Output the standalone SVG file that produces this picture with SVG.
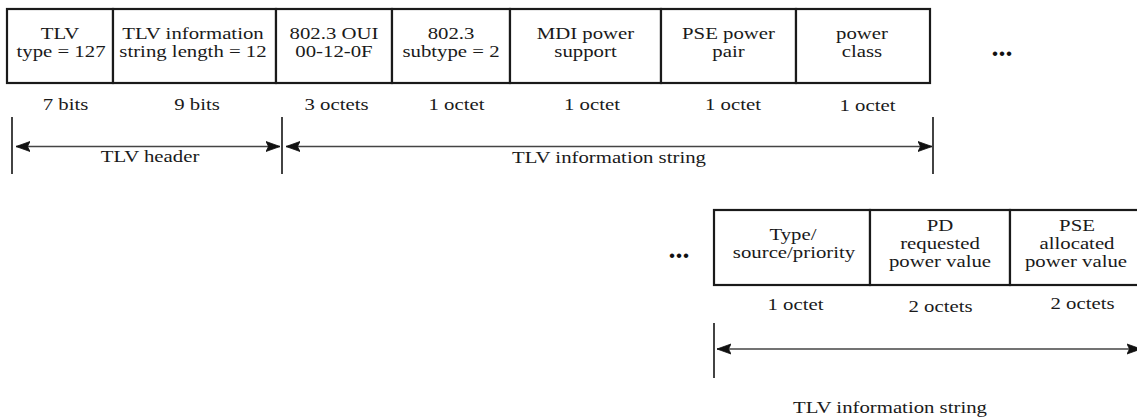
<svg xmlns="http://www.w3.org/2000/svg" width="1137" height="418" viewBox="0 0 1137 418">
<style>
.box{fill:#fff;stroke:#1a1a1a;stroke-width:2.2}
.t{font-family:"Liberation Serif","Times New Roman",serif;font-size:16.5px;fill:#1a1a1a;text-anchor:middle}
.dots{font-family:"Liberation Serif",serif;font-size:28px;font-weight:bold;fill:#111;text-anchor:middle}
.tick{stroke:#222;stroke-width:1.7}
.dim{stroke:#444;stroke-width:1.5;fill:none;marker-start:url(#ah);marker-end:url(#ah)}
</style>
<defs>
<marker id="ah" markerUnits="userSpaceOnUse" markerWidth="16" markerHeight="12" refX="14" refY="6" orient="auto-start-reverse">
<path d="M0,1 L14,6 L0,11 L2.5,6 Z" fill="#111" stroke="#111" stroke-width="0.8" stroke-linejoin="round"/>
</marker>
</defs>
<rect width="1137" height="418" fill="#fff"/>

<g id="f-tlv-type">
<rect class="box" x="7" y="9" width="106" height="74"/>
<text class="t" transform="translate(60,38.5) scale(1.26,1)">TLV</text>
<text class="t" transform="translate(61,56.5) scale(1.26,1)">type = 127</text>
<text class="t" transform="translate(65.5,110) scale(1.26,1)">7 bits</text>
</g>
<g id="f-tlv-len">
<rect class="box" x="113" y="9" width="163" height="74"/>
<text class="t" transform="translate(193,38.5) scale(1.26,1)">TLV information</text>
<text class="t" transform="translate(193,56.5) scale(1.26,1)">string length = 12</text>
<text class="t" transform="translate(197,110) scale(1.26,1)">9 bits</text>
</g>
<g id="f-oui">
<rect class="box" x="276" y="9" width="116" height="74"/>
<text class="t" transform="translate(334,38.5) scale(1.26,1)">802.3 OUI</text>
<text class="t" transform="translate(334,56.5) scale(1.26,1)">00-12-0F</text>
<text class="t" transform="translate(336.5,110) scale(1.26,1)">3 octets</text>
</g>
<g id="f-subtype">
<rect class="box" x="392" y="9" width="118" height="74"/>
<text class="t" transform="translate(451,38.5) scale(1.26,1)">802.3</text>
<text class="t" transform="translate(451,56.5) scale(1.26,1)">subtype = 2</text>
<text class="t" transform="translate(456.5,110) scale(1.26,1)">1 octet</text>
</g>
<g id="f-mdi">
<rect class="box" x="510" y="9" width="151" height="74"/>
<text class="t" transform="translate(585.5,38.5) scale(1.26,1)">MDI power</text>
<text class="t" transform="translate(585.5,56.5) scale(1.26,1)">support</text>
<text class="t" transform="translate(592,110) scale(1.26,1)">1 octet</text>
</g>
<g id="f-pse-pair">
<rect class="box" x="661" y="9" width="135" height="74"/>
<text class="t" transform="translate(728.5,38.5) scale(1.26,1)">PSE power</text>
<text class="t" transform="translate(728.5,56.5) scale(1.26,1)">pair</text>
<text class="t" transform="translate(733,110) scale(1.26,1)">1 octet</text>
</g>
<g id="f-class">
<rect class="box" x="796" y="9" width="134" height="74"/>
<text class="t" transform="translate(862,38.5) scale(1.26,1)">power</text>
<text class="t" transform="translate(862,56.5) scale(1.26,1)">class</text>
<text class="t" transform="translate(867.5,111) scale(1.26,1)">1 octet</text>
</g>
<g id="ellipsis-top">
<text class="dots" x="1002" y="56">...</text>
</g>

<g id="ellipsis-bottom">
<text class="dots" x="679" y="258">...</text>
</g>
<g id="f-type-src">
<rect class="box" x="714" y="210" width="156" height="75"/>
<text class="t" transform="translate(793,240) scale(1.26,1)">Type/</text>
<text class="t" transform="translate(794,258) scale(1.26,1)">source/priority</text>
<text class="t" transform="translate(795.5,310) scale(1.26,1)">1 octet</text>
</g>
<g id="f-pd-req">
<rect class="box" x="870" y="210" width="140" height="75"/>
<text class="t" transform="translate(940,231) scale(1.26,1)">PD</text>
<text class="t" transform="translate(940,249) scale(1.26,1)">requested</text>
<text class="t" transform="translate(940,267) scale(1.26,1)">power value</text>
<text class="t" transform="translate(940.5,312) scale(1.26,1)">2 octets</text>
</g>
<g id="f-pse-alloc">
<rect class="box" x="1010" y="210" width="140" height="75"/>
<text class="t" transform="translate(1077,231) scale(1.26,1)">PSE</text>
<text class="t" transform="translate(1077,249) scale(1.26,1)">allocated</text>
<text class="t" transform="translate(1076,267) scale(1.26,1)">power value</text>
<text class="t" transform="translate(1082.5,309) scale(1.26,1)">2 octets</text>
</g>

<g id="connectors">
<line class="tick" x1="12" y1="117" x2="12" y2="174"/>
<line class="tick" x1="282" y1="117" x2="282" y2="174"/>
<line class="tick" x1="933" y1="117" x2="933" y2="174"/>
<line class="dim" x1="16" y1="146.5" x2="280" y2="146.5"/>
<line class="dim" x1="286" y1="146.5" x2="932" y2="146.5"/>
<line class="tick" x1="714" y1="323" x2="714" y2="378"/>
<line class="dim" x1="717" y1="349" x2="1141" y2="349"/>
</g>
<g id="dim-labels">
<text class="t" transform="translate(150,162) scale(1.26,1)">TLV header</text>
<text class="t" transform="translate(609,163) scale(1.26,1)">TLV information string</text>
<text class="t" transform="translate(890,413) scale(1.26,1)">TLV information string</text>
</g>
</svg>
